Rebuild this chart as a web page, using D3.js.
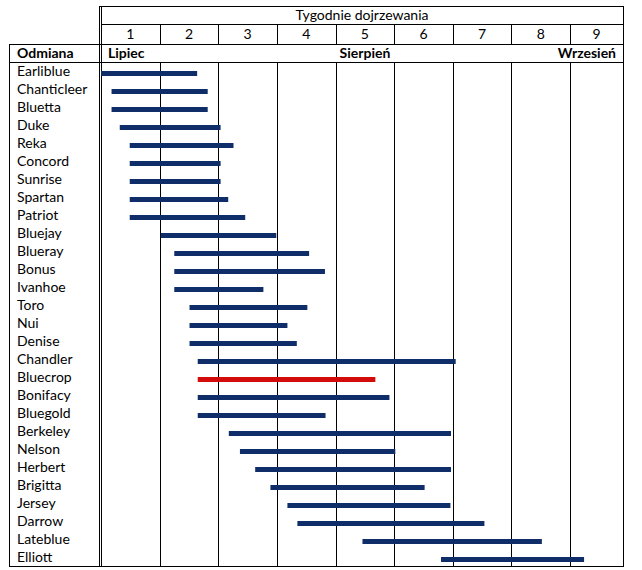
<!DOCTYPE html>
<html>
<head>
<meta charset="utf-8">
<style>
  body { margin: 0; background: #fff; }
  text { font-family: Lato, "Open Sans", sans-serif; fill: #000; }
</style>
</head>
<body>
<script src="https://d3js.org/d3.v7.min.js"></script>
<script>
  // data (weeks from start of ripening period)
  const weeks = ['1', '2', '3', '4', '5', '6', '7', '8', '9']
  const months = ['Lipiec', 'Sierpień', 'Wrzesień']
  const varieties = ['Earliblue', 'Chanticleer', 'Bluetta', 'Duke', 'Reka', 'Concord', 'Sunrise',
    'Spartan', 'Patriot', 'Bluejay', 'Blueray', 'Bonus', 'Ivanhoe', 'Toro', 'Nui', 'Denise',
    'Chandler', 'Bluecrop', 'Bonifacy', 'Bluegold', 'Berkeley', 'Nelson', 'Herbert', 'Brigitta',
    'Jersey', 'Darrow', 'Lateblue', 'Elliott']
  const startWeek = [0, 0.18, 0.18, 0.32, 0.49, 0.49, 0.49, 0.49, 0.49, 1.02, 1.25, 1.25, 1.25,
    1.51, 1.51, 1.51, 1.65, 1.65, 1.65, 1.65, 2.18, 2.37, 2.63, 2.89, 3.18, 3.35, 4.46, 5.8]
  const endWeek = [1.64, 1.82, 1.82, 2.04, 2.26, 2.04, 2.04, 2.17, 2.46, 2.99, 3.55, 3.82, 2.77,
    3.52, 3.18, 3.34, 6.05, 4.68, 4.92, 3.83, 5.97, 5.02, 5.97, 5.52, 5.96, 6.54, 7.52, 8.24]
  const highlighted = 'Bluecrop'

  const rows = varieties.map((name, i) => ({ name, start: startWeek[i], end: endWeek[i] }))

  const width = 642
  const height = 570
  const tblLeft = 9        // left border of table
  const split = 101        // double line between names and weeks
  const tblRight = 623     // right border
  const tblTop = 6
  const weekRowTop = 24
  const monthRowTop = 44
  const bodyTop = 62
  const tblBottom = 566
  const fs = '14px'

  const svg = d3.select('body').append('svg')
    .attr('width', width)
    .attr('height', height)

  // week scale
  const x = d3.scaleLinear()
    .domain([0, 8])
    .range([split, 570])

  const y = d3.scaleBand()
    .domain(varieties)
    .range([bodyTop, tblBottom])

  const lines = svg.append('g')
    .attr('stroke', '#000')
    .attr('stroke-width', 1)
    .attr('shape-rendering', 'crispEdges')

  function hline(y0, x1, x2) {
    lines.append('line').attr('x1', x1).attr('x2', x2).attr('y1', y0 + 0.5).attr('y2', y0 + 0.5)
  }
  function vline(x0, y1, y2) {
    lines.append('line').attr('x1', x0 + 0.5).attr('x2', x0 + 0.5).attr('y1', y1).attr('y2', y2)
  }

  // table frame
  hline(tblTop, split - 2, tblRight + 1)
  hline(weekRowTop, split, tblRight + 1)
  hline(monthRowTop, tblLeft, tblRight + 1)
  hline(bodyTop, tblLeft, tblRight + 1)
  hline(tblBottom, tblLeft, tblRight + 1)

  vline(tblLeft, monthRowTop, tblBottom + 1)
  vline(split - 2, tblTop, tblBottom + 1)
  vline(split, tblTop, tblBottom + 1)
  vline(tblRight, tblTop, tblBottom + 1)

  // week gridlines
  d3.range(1, 9).forEach(w => {
    vline(Math.round(x(w)), weekRowTop, monthRowTop)
    vline(Math.round(x(w)), bodyTop, tblBottom)
  })

  // header texts
  svg.append('text')
    .attr('x', (split + tblRight) / 2)
    .attr('y', 20)
    .attr('text-anchor', 'middle')
    .attr('font-size', fs)
    .text('Tygodnie dojrzewania')

  svg.selectAll('.week')
    .data(weeks)
    .enter().append('text')
    .attr('class', 'week')
    .attr('x', (d, i) => i < 8 ? x(i + 0.5) : (x(8) + tblRight) / 2)
    .attr('y', 39)
    .attr('text-anchor', 'middle')
    .attr('font-size', fs)
    .text(d => d)

  svg.append('text')
    .attr('x', 17)
    .attr('y', 58)
    .attr('font-size', fs)
    .attr('font-weight', 'bold')
    .text('Odmiana')

  const monthPos = [
    { x: split + 7, anchor: 'start' },
    { x: (split + tblRight) / 2 + 3, anchor: 'middle' },
    { x: tblRight - 7, anchor: 'end' }
  ]
  svg.selectAll('.month')
    .data(months)
    .enter().append('text')
    .attr('class', 'month')
    .attr('x', (d, i) => monthPos[i].x)
    .attr('y', 58)
    .attr('text-anchor', (d, i) => monthPos[i].anchor)
    .attr('font-size', fs)
    .attr('font-weight', 'bold')
    .text(d => d)

  // variety names
  svg.selectAll('.name')
    .data(rows)
    .enter().append('text')
    .attr('class', 'name')
    .attr('x', 17)
    .attr('y', d => y(d.name) + 14)
    .attr('font-size', fs)
    .text(d => d.name)

  // ripening bars
  svg.selectAll('.bar')
    .data(rows)
    .enter().append('rect')
    .attr('class', 'bar')
    .attr('x', d => x(d.start))
    .attr('y', d => y(d.name) + 9)
    .attr('width', d => x(d.end) - x(d.start))
    .attr('height', 5)
    .attr('fill', d => d.name === highlighted ? '#d40b0b' : '#0f2d69')
</script>
</body>
</html>
